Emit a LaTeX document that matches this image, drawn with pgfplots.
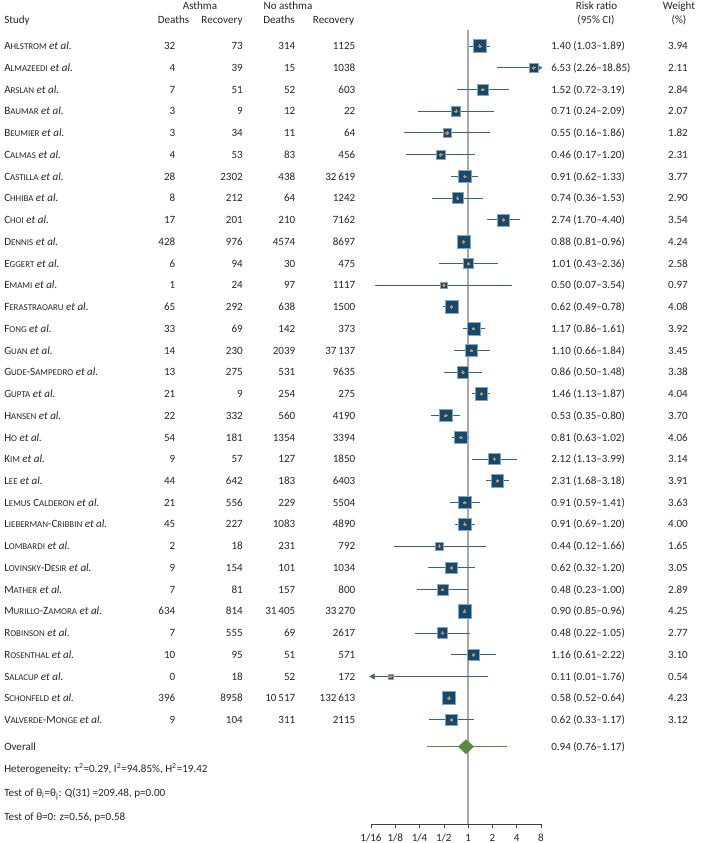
\documentclass[border=0pt]{standalone}
\usepackage{pgfplots}
\pgfplotsset{compat=1.18}
\usepackage{pgfplotstable}
\usepackage{fontspec}
\setmainfont{Carlito}
\usetikzlibrary{arrows.meta}
\definecolor{sqblue}{HTML}{114A72}
\definecolor{sqedge}{HTML}{8AA4BA}
\definecolor{cil}{HTML}{3E5F78}
\definecolor{orangedot}{HTML}{F5841F}
\definecolor{ovg}{HTML}{5B8A3C}
\definecolor{refl}{HTML}{A8A8A8}
\definecolor{txt}{HTML}{262626}
\newcommand\fs{\fontsize{8.3}{9}\selectfont}
\newcommand\SC[2]{#1{\fontsize{6.7}{7}\selectfont #2}}

\pgfplotstableread{
row rr lo hi w
1 1.40 1.03 1.89 3.94
2 6.53 2.26 18.85 2.11
3 1.52 0.72 3.19 2.84
4 0.71 0.24 2.09 2.07
5 0.55 0.16 1.86 1.82
6 0.46 0.17 1.20 2.31
7 0.91 0.62 1.33 3.77
8 0.74 0.36 1.53 2.90
9 2.74 1.70 4.40 3.54
10 0.88 0.81 0.96 4.24
11 1.01 0.43 2.36 2.58
12 0.50 0.07 3.54 0.97
13 0.62 0.49 0.78 4.08
14 1.17 0.86 1.61 3.92
15 1.10 0.66 1.84 3.45
16 0.86 0.50 1.48 3.38
17 1.46 1.13 1.87 4.04
18 0.53 0.35 0.80 3.70
19 0.81 0.63 1.02 4.06
20 2.12 1.13 3.99 3.14
21 2.31 1.68 3.18 3.91
22 0.91 0.59 1.41 3.63
23 0.91 0.69 1.20 4.00
24 0.44 0.12 1.66 1.65
25 0.62 0.32 1.20 3.05
26 0.48 0.23 1.00 2.89
27 0.90 0.85 0.96 4.25
28 0.48 0.22 1.05 2.77
29 1.16 0.61 2.22 3.10
30 0.11 0.01 1.76 0.54
31 0.58 0.52 0.64 4.23
32 0.62 0.33 1.17 3.12
}\studies

\newcommand\R[8]{%
  \pgfmathsetmacro\yy{46+(#1-1)*21.74+3.7}%
  \node[anchor=base west] at (4,\yy) {#2 \textit{et al.}};
  \node[anchor=base east] at (175.5,\yy) {#3};
  \node[anchor=base east] at (243,\yy) {#4};
  \node[anchor=base east] at (295.5,\yy) {#5};
  \node[anchor=base east] at (355.5,\yy) {#6};
  \node[anchor=base west] at (551,\yy) {#7};
  \node[anchor=base] at (678,\yy) {#8};
}

\begin{document}
\begin{tikzpicture}[font=\fs, text=txt]
\path[use as bounding box] (0,0) rectangle (527.25pt,-632.25pt);
\coordinate (ax) at (278.25pt,-618.225pt);
\begin{axis}[
  at={(ax)}, anchor=south west, scale only axis,
  width=127.5pt, height=596.1pt,
  xmode=log, log basis x=2, xmin=0.0625, xmax=8,
  ymin=0.241, ymax=36.8, y dir=reverse,
  axis x line*=bottom, axis y line=none,
  xtick={0.0625,0.125,0.25,0.5,1,2,4,8},
  xticklabels={1/16,1/8,1/4,1/2,1,2,4,8},
  xminorticks=false,
  tick align=outside, major tick length=3pt,
  xtick style={draw=black!75, line width=0.5pt},
  x axis line style={draw=black!75, line width=0.5pt, -},
  xticklabel style={font=\fs, text=txt, inner sep=1pt, yshift=-3.2pt},
]
\addplot[refl, line width=1.1pt, mark=none] coordinates {(1,0.241) (1,36.8)};
\addplot[draw=none, mark=none, forget plot,
  error bars/.cd, x dir=both, x explicit, error mark=none,
  error bar style={cil, line width=0.75pt}]
  table[x=rr, y=row, x error plus expr=\thisrow{hi}-\thisrow{rr}, x error minus expr=\thisrow{rr}-\thisrow{lo}] {\studies};
\addplot[only marks, mark=triangle*, mark size=2.2pt, color=cil, mark options={rotate=-90, fill=cil, draw=cil}] coordinates {(7.55,2)};
\addplot[only marks, mark=triangle*, mark size=2.2pt, color=cil, mark options={rotate=90, fill=cil, draw=cil}] coordinates {(0.066,30)};
\addplot[scatter, only marks, mark=square*,
  scatter/use mapped color={draw=sqedge, fill=sqblue},
  visualization depends on={2.4*sqrt(\thisrow{w}) \as \ms},
  scatter/@pre marker code/.append style={/tikz/mark size=\ms},
  mark options={line width=0.5pt}]
  table[x=rr, y=row] {\studies};
\addplot[only marks, color=orangedot, mark=*, mark size=1.0pt, mark options={fill=orangedot, draw=orangedot, line width=0pt}] table[x=rr, y=row] {\studies};
\addplot[ovg, line width=0.75pt, mark=none] coordinates {(0.31,33.23) (2.99,33.23)};
\addplot[fill=ovg, draw=ovg, mark=none] coordinates {(0.76,33.23) (0.94,32.91) (1.17,33.23) (0.94,33.55)} -- cycle;
\end{axis}

\begin{scope}[x=0.75pt, y=-0.75pt, every node/.append style={inner sep=0pt, text=txt}]
\node[anchor=base] at (200,9.5) {Asthma};
\node[anchor=base] at (288,9.5) {No asthma};
\node[anchor=base] at (596.5,9.5) {Risk ratio};
\node[anchor=base] at (679,9.5) {Weight};
\node[anchor=base west] at (4,23.3) {Study};
\node[anchor=base] at (173.5,23.3) {Deaths};
\node[anchor=base] at (222,23.3) {Recovery};
\node[anchor=base] at (279,23.3) {Deaths};
\node[anchor=base] at (333.5,23.3) {Recovery};
\node[anchor=base] at (596,23.3) {(95\% CI)};
\node[anchor=base] at (679,23.3) {(\%)};

\R{1}{\SC{A}{HLSTROM}}{32}{73}{314}{1125}{1.40 (1.03–1.89)}{3.94}
\R{2}{\SC{A}{LMAZEEDI}}{4}{39}{15}{1038}{6.53 (2.26–18.85)}{2.11}
\R{3}{\SC{A}{RSLAN}}{7}{51}{52}{603}{1.52 (0.72–3.19)}{2.84}
\R{4}{\SC{B}{AUMAR}}{3}{9}{12}{22}{0.71 (0.24–2.09)}{2.07}
\R{5}{\SC{B}{EUMIER}}{3}{34}{11}{64}{0.55 (0.16–1.86)}{1.82}
\R{6}{\SC{C}{ALMAS}}{4}{53}{83}{456}{0.46 (0.17–1.20)}{2.31}
\R{7}{\SC{C}{ASTILLA}}{28}{2302}{438}{32\,619}{0.91 (0.62–1.33)}{3.77}
\R{8}{\SC{C}{HHIBA}}{8}{212}{64}{1242}{0.74 (0.36–1.53)}{2.90}
\R{9}{\SC{C}{HOI}}{17}{201}{210}{7162}{2.74 (1.70–4.40)}{3.54}
\R{10}{\SC{D}{ENNIS}}{428}{976}{4574}{8697}{0.88 (0.81–0.96)}{4.24}
\R{11}{\SC{E}{GGERT}}{6}{94}{30}{475}{1.01 (0.43–2.36)}{2.58}
\R{12}{\SC{E}{MAMI}}{1}{24}{97}{1117}{0.50 (0.07–3.54)}{0.97}
\R{13}{\SC{F}{ERASTRAOARU}}{65}{292}{638}{1500}{0.62 (0.49–0.78)}{4.08}
\R{14}{\SC{F}{ONG}}{33}{69}{142}{373}{1.17 (0.86–1.61)}{3.92}
\R{15}{\SC{G}{UAN}}{14}{230}{2039}{37\,137}{1.10 (0.66–1.84)}{3.45}
\R{16}{\SC{G}{UDE}-\SC{S}{AMPEDRO}}{13}{275}{531}{9635}{0.86 (0.50–1.48)}{3.38}
\R{17}{\SC{G}{UPTA}}{21}{9}{254}{275}{1.46 (1.13–1.87)}{4.04}
\R{18}{\SC{H}{ANSEN}}{22}{332}{560}{4190}{0.53 (0.35–0.80)}{3.70}
\R{19}{\SC{H}{O}}{54}{181}{1354}{3394}{0.81 (0.63–1.02)}{4.06}
\R{20}{\SC{K}{IM}}{9}{57}{127}{1850}{2.12 (1.13–3.99)}{3.14}
\R{21}{\SC{L}{EE}}{44}{642}{183}{6403}{2.31 (1.68–3.18)}{3.91}
\R{22}{\SC{L}{EMUS} \SC{C}{ALDERON}}{21}{556}{229}{5504}{0.91 (0.59–1.41)}{3.63}
\R{23}{\SC{L}{IEBERMAN}-\SC{C}{RIBBIN}}{45}{227}{1083}{4890}{0.91 (0.69–1.20)}{4.00}
\R{24}{\SC{L}{OMBARDI}}{2}{18}{231}{792}{0.44 (0.12–1.66)}{1.65}
\R{25}{\SC{L}{OVINSKY}-\SC{D}{ESIR}}{9}{154}{101}{1034}{0.62 (0.32–1.20)}{3.05}
\R{26}{\SC{M}{ATHER}}{7}{81}{157}{800}{0.48 (0.23–1.00)}{2.89}
\R{27}{\SC{M}{URILLO}-\SC{Z}{AMORA}}{634}{814}{31\,405}{33\,270}{0.90 (0.85–0.96)}{4.25}
\R{28}{\SC{R}{OBINSON}}{7}{555}{69}{2617}{0.48 (0.22–1.05)}{2.77}
\R{29}{\SC{R}{OSENTHAL}}{10}{95}{51}{571}{1.16 (0.61–2.22)}{3.10}
\R{30}{\SC{S}{ALACUP}}{0}{18}{52}{172}{0.11 (0.01–1.76)}{0.54}
\R{31}{\SC{S}{CHONFELD}}{396}{8958}{10\,517}{132\,613}{0.58 (0.52–0.64)}{4.23}
\R{32}{\SC{V}{ALVERDE}-\SC{M}{ONGE}}{9}{104}{311}{2115}{0.62 (0.33–1.17)}{3.12}

\node[anchor=base west] at (4,750.4) {Overall};
\node[anchor=base west] at (551,750.4) {0.94 (0.76–1.17)};
\node[anchor=base west] at (4,772) {Heterogeneity: τ\textsuperscript{2}=0.29, I\textsuperscript{2}=94.85\%, H\textsuperscript{2}=19.42};
\node[anchor=base west] at (4,796.4) {Test of θ\textsubscript{i}=θ\textsubscript{j}: Q(31) =209.48, p=0.00};
\node[anchor=base west] at (4,820.4) {Test of θ=0: z=0.56, p=0.58};
\end{scope}
\end{tikzpicture}
\end{document}
